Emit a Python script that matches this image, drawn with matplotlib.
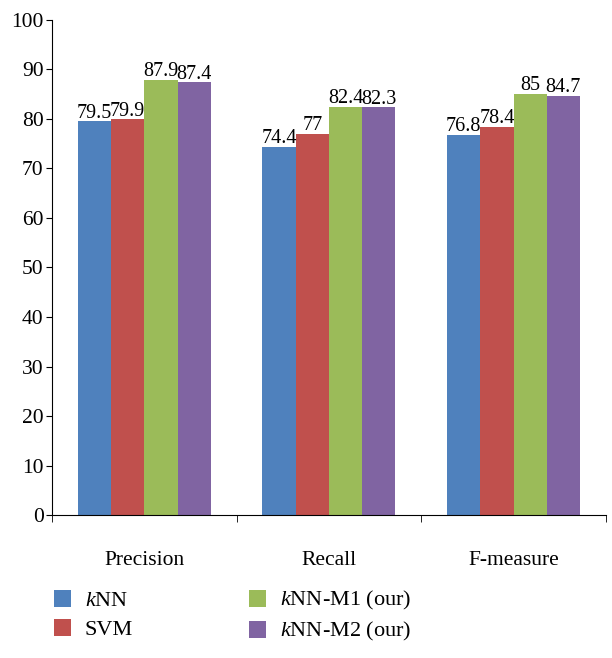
import matplotlib
matplotlib.use("Agg")
import matplotlib.pyplot as plt
import numpy as np

plt.rcParams["font.family"] = ["Liberation Serif", "DejaVu Serif"]
plt.rcParams["mathtext.fontset"] = "custom"
plt.rcParams["mathtext.it"] = "Liberation Serif:italic"
plt.rcParams["mathtext.rm"] = "Liberation Serif"

categories = ["Precision", "Recall", "F-measure"]
methods = ["$k$NN", "SVM", "$k$NN-M1 (our)", "$k$NN-M2 (our)"]
knn = [79.5, 74.4, 76.8]
svm = [79.9, 77, 78.4]
knn_m1 = [87.9, 82.4, 85]
knn_m2 = [87.4, 82.3, 84.7]
series = [knn, svm, knn_m1, knn_m2]
colors = ["#4F81BD", "#C0504D", "#9BBB59", "#8064A2"]

fig = plt.figure(figsize=(6.12, 6.58), dpi=100)
ax = fig.add_axes([0.085, 0.217, 0.905, 0.753])

x = np.arange(len(categories))
w = 0.18
for i, (vals, c, name) in enumerate(zip(series, colors, methods)):
    bars = ax.bar(x + (i - 1.5) * w, vals, w, color=c, label=name)
    ax.bar_label(bars, labels=[f"{v:g}" for v in vals], padding=-1, fontsize=14.5)

ax.set_ylim(0, 100)
ax.set_yticks(range(0, 101, 10))
ax.set_xlim(-0.5, 2.5)
ax.set_xticks(x)
ax.set_xticklabels(categories)
ax.set_xticks([-0.5, 0.5, 1.5, 2.5], minor=True)
ax.tick_params(axis="x", which="major", length=0, pad=26, labelsize=15.5)
ax.tick_params(axis="x", which="minor", length=5, direction="out")
ax.tick_params(axis="y", length=4, direction="out", labelsize=15.5, pad=2)
for s in ["top", "right"]:
    ax.spines[s].set_visible(False)

fig.legend(loc="lower left", bbox_to_anchor=(0.055, -0.008), ncol=2, frameon=False,
           fontsize=16, handlelength=0.8, handleheight=0.8, columnspacing=5.2,
           labelspacing=0.35, handletextpad=0.6)

fig.savefig("out.png", dpi=100)
